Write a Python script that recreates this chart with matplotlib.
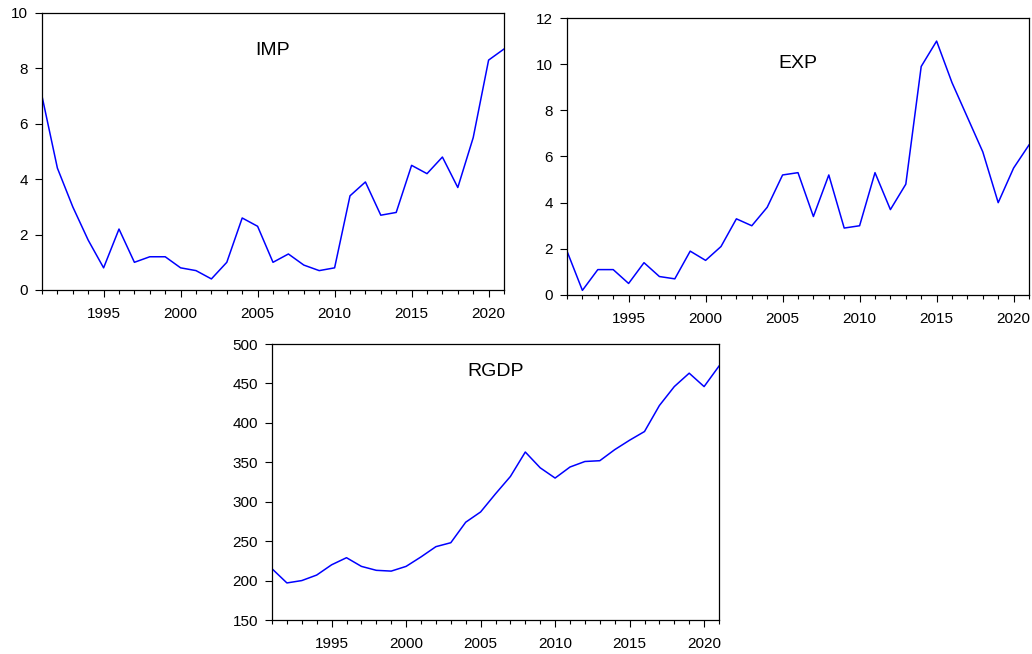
import matplotlib
matplotlib.use("Agg")
import matplotlib.pyplot as plt
from matplotlib.ticker import MultipleLocator

plt.rcParams['font.family'] = ['Liberation Sans', 'DejaVu Sans']

years = list(range(1991, 2022))

imp = [7.0, 4.4, 3.0, 1.8, 0.8, 2.2, 1.0, 1.2, 1.2, 0.8, 0.7, 0.4, 1.0, 2.6, 2.3, 1.0,
       1.3, 0.9, 0.7, 0.8, 3.4, 3.9, 2.7, 2.8, 4.5, 4.2, 4.8, 3.7, 5.5, 8.3, 8.7]
exp = [1.9, 0.2, 1.1, 1.1, 0.5, 1.4, 0.8, 0.7, 1.9, 1.5, 2.1, 3.3, 3.0, 3.8, 5.2, 5.3,
       3.4, 5.2, 2.9, 3.0, 5.3, 3.7, 4.8, 9.9, 11.0, 9.2, 7.7, 6.2, 4.0, 5.5, 6.5]
rgdp = [215, 197, 200, 207, 220, 229, 218, 213, 212, 218, 230, 243, 248, 274, 287, 310,
        332, 363, 343, 330, 344, 351, 352, 366, 378, 389, 422, 446, 463, 446, 472]

W, H = 1032, 654
fig = plt.figure(figsize=(W / 100, H / 100), dpi=100)


def panel(left, top, width, height, values, name, ylim, ystep, title_y):
    ax = fig.add_axes([left / W, 1 - (top + height) / H, width / W, height / H])
    ax.plot(years, values, color='#0000ff', lw=1.1)
    ax.set_xlim(1991, 2021)
    ax.set_ylim(*ylim)
    ax.xaxis.set_major_locator(MultipleLocator(5))
    ax.xaxis.set_minor_locator(MultipleLocator(1))
    ax.yaxis.set_major_locator(MultipleLocator(ystep))
    ax.tick_params(axis='x', which='major', direction='out', length=5, width=0.8,
                   pad=7, labelsize=11)
    ax.tick_params(axis='x', which='minor', direction='out', length=3, width=0.8)
    ax.tick_params(axis='y', which='major', direction='out', length=5, width=0.8,
                   pad=5, labelsize=11)
    for s in ax.spines.values():
        s.set_linewidth(0.9)
    ax.text(0.5, title_y, name, transform=ax.transAxes, ha='center', va='center',
            fontsize=14)
    return ax


panel(42, 13, 462, 277, imp, 'IMP', (0, 10), 2, 0.866)
panel(567, 18, 462, 277, exp, 'EXP', (0, 12), 2, 0.835)
panel(272, 344, 447, 276, rgdp, 'RGDP', (150, 500), 50, 0.90)

fig.savefig('out.png', dpi=100)
